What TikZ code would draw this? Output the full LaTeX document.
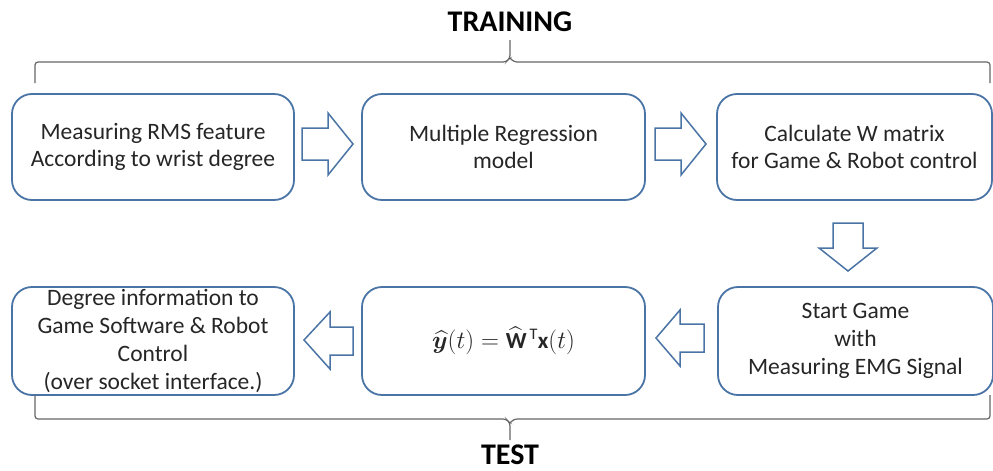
\documentclass[tikz,border=0pt]{standalone}
\usepackage{fontspec}
\usepackage{amsmath,amssymb,bm}
\setmainfont{Carlito}
\definecolor{boxblue}{HTML}{4A74A5}
\definecolor{txt}{HTML}{262626}
\definecolor{brk}{HTML}{666666}
\begin{document}
\begin{tikzpicture}[x=1pt,y=-1pt,
  stage/.style={draw=boxblue, line width=1.8pt, rounded corners=20pt, fill=white,
    align=center, text=txt, inner sep=0pt, font=\fontsize{23.5}{27}\selectfont},
  blk/.style={draw=boxblue, line width=1.5pt, fill=white, line join=miter},
  brace/.style={draw=brk, line width=1.2pt, rounded corners=3pt},
  title/.style={font=\fontsize{30}{34}\selectfont\bfseries, text=black}]
\useasboundingbox (0,0) rectangle (993,471);
% top row
\node[stage, minimum width=282pt, minimum height=106pt] (b1) at (153,147)
  {Measuring RMS feature\\According to wrist degree};
\node[stage, minimum width=283pt, minimum height=106pt] (b2) at (503.5,147)
  {Multiple Regression\\model};
\node[stage, minimum width=275pt, minimum height=106pt] (b3) at (854.5,147)
  {Calculate W matrix\\for Game \& Robot control};
% bottom row
\node[stage, minimum width=282pt, minimum height=108pt, font=\fontsize{23.5}{28}\selectfont] (b4) at (153,341)
  {Degree information to\\Game Software \& Robot\\Control\\(over socket interface.)};
\node[stage, minimum width=283pt, minimum height=108pt, font=\fontsize{23}{27}\selectfont] (b5) at (503.5,341)
  {$\widehat{\bm{y}}(t)=\widehat{\mathbf{W}}^{\,\mathrm{T}}\mathbf{x}(t)$};
\node[stage, minimum width=275pt, minimum height=108pt, font=\fontsize{23.5}{28}\selectfont] (b6) at (855.5,341)
  {Start Game\\with\\Measuring EMG Signal};
% block arrows
\draw[blk] (302,128) -- (328,128) -- (328,113) -- (353,144) -- (328,175) -- (328,160) -- (302,160) -- cycle;
\draw[blk] (655,128) -- (681,128) -- (681,113) -- (706,144) -- (681,175) -- (681,160) -- (655,160) -- cycle;
\draw[blk] (833,223) -- (863,223) -- (863,248) -- (877,248) -- (848,271) -- (819,248) -- (833,248) -- cycle;
\draw[blk] (704,324) -- (680,324) -- (680,310) -- (656,338) -- (680,366) -- (680,352) -- (704,352) -- cycle;
\draw[blk] (353,327) -- (330,327) -- (330,312) -- (304,340) -- (330,369) -- (330,355) -- (353,355) -- cycle;
% braces
\node[title] (tr) at (510,22) {TRAINING};
\node[title] (te) at (510,455) {TEST};
\coordinate (tl) at (35,83);
\coordinate (trr) at (990,83);
\coordinate (bl) at (35,395);
\coordinate (brr) at (990,395);
\draw[brace] (tl) -- (35,62) -- (506,62) -- (510,58) -- (510,40);
\draw[brace] (510,58) -- (514,62) -- (990,62) -- (trr);
\draw[brace] (bl) -- (35,419) -- (506,419) -- (510,423) -- (510,440);
\draw[brace] (510,423) -- (514,419) -- (990,419) -- (brr);
\end{tikzpicture}
\end{document}
